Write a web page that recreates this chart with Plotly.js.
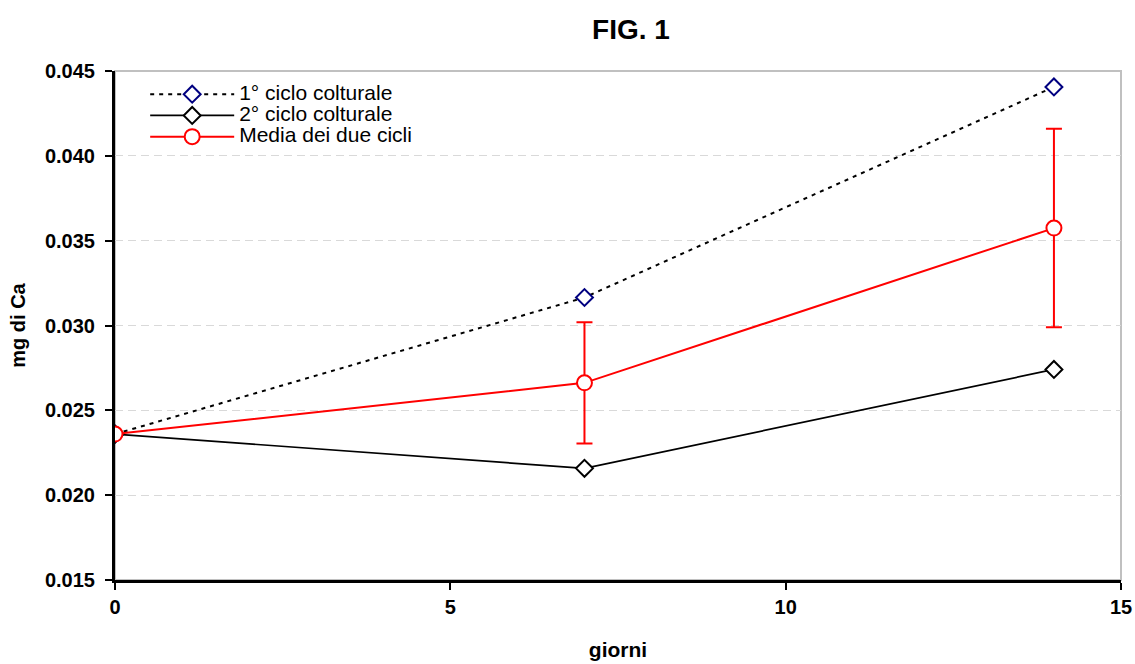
<!DOCTYPE html>
<html>
<head>
<meta charset="utf-8">
<script src="https://cdn.plot.ly/plotly-3.0.1.min.js"></script>
<style>html,body{margin:0;padding:0;background:#fff;}#chart{width:1135px;height:664px;}</style>
</head>
<body>
<div id="chart"></div>
<script>
const giorni = [0, 7, 14];
const ciclo1 = [0.0236, 0.03165, 0.04406];
const ciclo2 = [0.0236, 0.02158, 0.02741];
const media = [0.0236, 0.02662, 0.03574];
const mediaErr = [0, 0.00357, 0.00585];
const seriesNames = ["1° ciclo colturale", "2° ciclo colturale", "Media dei due cicli"];

const legendLabel = s => '<span style="font-size:21px">' + s + '</span>';

const traces = [
  {
    x: giorni, y: ciclo1, name: legendLabel(seriesNames[0]), type: "scatter", mode: "lines+markers",
    line: {color: "#000000", width: 2, dash: "4px,5px"},
    marker: {symbol: "diamond", size: 13, color: "#ffffff", line: {color: "#000080", width: 2}}
  },
  {
    x: giorni, y: ciclo2, name: legendLabel(seriesNames[1]), type: "scatter", mode: "lines+markers",
    line: {color: "#000000", width: 1.7},
    marker: {symbol: "diamond", size: 13, color: "#ffffff", line: {color: "#000000", width: 2}}
  },
  {
    x: giorni, y: media, name: legendLabel(seriesNames[2]), type: "scatter", mode: "lines+markers",
    line: {color: "#ff0000", width: 2},
    marker: {symbol: "circle", size: 15, color: "#ffffff", line: {color: "#ff0000", width: 2}},
    error_y: {type: "data", array: mediaErr, visible: true, color: "#ff0000", thickness: 2, width: 8}
  }
];

const FAM = "Liberation Sans, Arial, sans-serif";
const tickFont = {family: FAM, size: 20, color: "#000", weight: "bold"};

const layout = {
  width: 1135, height: 664,
  margin: {l: 115, r: 14, t: 71, b: 84},
  paper_bgcolor: "#ffffff", plot_bgcolor: "#ffffff",
  font: {family: FAM, color: "#000"},
  title: {text: "FIG. 1", font: {size: 28, weight: "bold", family: FAM},
          x: 631 / 1135, xref: "container", xanchor: "center", y: 1 - 29 / 664, yref: "container", yanchor: "middle"},
  xaxis: {
    range: [0, 15], dtick: 5, tick0: 0,
    showline: true, linecolor: "#000", linewidth: 3,
    ticks: "outside", ticklen: 7, tickwidth: 2, tickcolor: "#000",
    showgrid: false, zeroline: false,
    tickfont: tickFont,
    title: {text: "giorni", font: {size: 21, weight: "bold", family: FAM}, standoff: 26}
  },
  yaxis: {
    range: [0.015, 0.045], dtick: 0.005, tick0: 0.015, tickformat: ".3f",
    showline: true, linecolor: "#000", linewidth: 3,
    ticks: "outside", ticklen: 7, tickwidth: 2, tickcolor: "#000",
    ticklabelstandoff: 6,
    showgrid: true, gridcolor: "#d9d9d9", gridwidth: 1, griddash: "8px,5px",
    zeroline: false,
    tickfont: tickFont,
    title: {text: "mg di Ca", font: {size: 20, weight: "bold", family: FAM}, standoff: 14}
  },
  legend: {
    x: 0.03, y: 0.985, xanchor: "left", yanchor: "top",
    bgcolor: "rgba(255,255,255,0)", borderwidth: 0,
    font: {size: 14, family: FAM, color: "#000"},
    tracegroupgap: 0, itemwidth: 84
  },
  shapes: [
    {type: "rect", xref: "paper", yref: "paper", x0: 0, x1: 1, y0: 0, y1: 1,
     line: {color: "#c0c0c0", width: 2}, layer: "below"}
  ],
  showlegend: true
};

Plotly.newPlot("chart", traces, layout, {displayModeBar: false, staticPlot: true});
</script>
</body>
</html>
